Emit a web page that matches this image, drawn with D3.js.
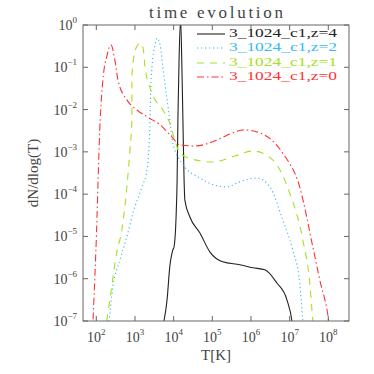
<!DOCTYPE html>
<html>
<head>
<meta charset="utf-8">
<script src="https://cdn.jsdelivr.net/npm/d3@7"></script>
<style>
  body { margin: 0; background: #fff; }
  svg text { font-family: "Liberation Serif", "DejaVu Serif", serif; }
</style>
</head>
<body>
<div id="chart"></div>
<script>
// log10 of T and of dN/dlog(T)
var logT_z4 = [3.75, 3.83, 3.90, 3.98, 4.01, 4.06, 4.09, 4.11, 4.14, 4.18, 4.21, 4.24, 4.27, 4.29, 4.42, 4.68, 4.94, 5.27, 5.71, 6.05, 6.36, 6.67, 6.93, 7.06, 7.10];
var logN_z4 = [-7.0, -6.5, -5.72, -5.32, -5.25, -4.61, -3.66, -2.25, -0.83, 0.15, -0.83, -2.25, -3.66, -4.14, -4.54, -4.92, -5.37, -5.60, -5.67, -5.74, -5.79, -6.10, -6.50, -7.0, -7.3];

var logT_z2 = [2.30, 2.43, 2.61, 2.79, 2.95, 3.18, 3.31, 3.39, 3.40, 3.44, 3.52, 3.57, 3.65, 3.72, 3.83, 3.90, 3.98, 4.21, 4.68, 5.38, 5.71, 6.15, 6.49, 6.82, 7.08, 7.26, 7.34, 7.37];
var logN_z2 = [-7.3, -6.19, -5.56, -5.01, -4.44, -3.83, -3.43, -2.25, -1.77, -0.99, -0.47, -0.31, -0.47, -0.99, -1.77, -2.25, -2.79, -3.26, -3.62, -3.83, -3.71, -3.62, -3.83, -4.61, -5.32, -6.10, -7.0, -7.3];

var logT_z1 = [2.22, 2.35, 2.53, 2.66, 2.79, 2.87, 2.92, 2.92, 2.95, 3.03, 3.13, 3.21, 3.26, 3.44, 3.72, 3.90, 4.03, 4.16, 4.55, 5.02, 5.58, 6.05, 6.56, 7.00, 7.34, 7.52, 7.60, 7.63];
var logN_z1 = [-7.3, -6.5, -5.37, -4.85, -3.83, -2.96, -2.25, -1.30, -0.90, -0.54, -0.43, -0.54, -0.99, -1.61, -2.01, -2.32, -2.72, -3.03, -3.19, -3.24, -3.10, -2.98, -3.19, -3.97, -5.08, -6.10, -7.0, -7.3];

var logT_z0 = [1.90, 1.99, 2.10, 2.17, 2.28, 2.38, 2.48, 2.56, 2.79, 3.05, 3.31, 3.65, 3.96, 4.16, 4.55, 5.07, 5.45, 5.82, 6.23, 6.82, 7.26, 7.60, 7.78, 8.01, 8.05];
var logN_z0 = [-7.3, -5.32, -2.25, -1.30, -0.71, -0.47, -0.83, -1.30, -1.77, -2.01, -2.17, -2.36, -2.65, -2.84, -2.86, -2.74, -2.58, -2.48, -2.55, -3.03, -3.83, -5.25, -6.03, -7.0, -7.3];

var seriesNames = ['3_1024_c1,z=4', '3_1024_c1,z=2', '3_1024_c1,z=1', '3_1024_c1,z=0'];
var seriesColors = ['#222222', '#33bbf0', '#a8e020', '#ff3333'];
var seriesDash = [null, '1.2,2.8', '7,6', '7,3,1.5,3'];
var xTickExp = [2, 3, 4, 5, 6, 7, 8];
var yTickExp = [0, -1, -2, -3, -4, -5, -6, -7];

var W = 374, H = 374;
var margin = { left: 83, right: 25, top: 25, bottom: 53 };
var iw = W - margin.left - margin.right, ih = H - margin.top - margin.bottom;

var svg = d3.select('#chart').append('svg')
  .attr('width', W).attr('height', H);

var x = d3.scaleLog().domain([Math.pow(10, 1.656), Math.pow(10, 8.535)]).range([0, iw]);
var y = d3.scaleLog().domain([1e-7, 1]).range([ih, 0]);

var g = svg.append('g').attr('transform', 'translate(' + margin.left + ',' + margin.top + ')');

g.append('clipPath').attr('id', 'clip')
  .append('rect').attr('width', iw).attr('height', ih);

// series
var allT = [logT_z4, logT_z2, logT_z1, logT_z0];
var allN = [logN_z4, logN_z2, logN_z1, logN_z0];

var line = d3.line()
  .x(function(d){ return x(d[0]); })
  .y(function(d){ return y(d[1]); })
  .curve(d3.curveMonotoneX);

allT.forEach(function(ts, i){
  var pts = ts.map(function(t, j){ return [Math.pow(10, t), Math.pow(10, allN[i][j])]; });
  g.append('path')
    .attr('clip-path', 'url(#clip)')
    .attr('d', line(pts))
    .attr('fill', 'none')
    .attr('stroke', seriesColors[i])
    .attr('stroke-width', 1.1)
    .attr('stroke-dasharray', seriesDash[i]);
});

// frame
g.append('rect').attr('width', iw).attr('height', ih)
  .attr('fill', 'none').attr('stroke', '#666').attr('stroke-width', 1);

var tickLen = 5;
var axisColor = '#666';
var textColor = '#444';

// x ticks
xTickExp.forEach(function(e){
  var px = x(Math.pow(10, e));
  g.append('line').attr('x1', px).attr('x2', px).attr('y1', ih).attr('y2', ih - tickLen).attr('stroke', axisColor);
  g.append('line').attr('x1', px).attr('x2', px).attr('y1', 0).attr('y2', tickLen).attr('stroke', axisColor);
  var t = g.append('text').attr('x', px).attr('y', ih + 21)
    .attr('text-anchor', 'middle').attr('fill', textColor).attr('font-size', 14);
  t.append('tspan').text('10');
  t.append('tspan').attr('dy', -7).attr('font-size', 9).text(e);
});

// y ticks
yTickExp.forEach(function(e){
  var py = y(Math.pow(10, e));
  g.append('line').attr('x1', 0).attr('x2', tickLen).attr('y1', py).attr('y2', py).attr('stroke', axisColor);
  g.append('line').attr('x1', iw).attr('x2', iw - tickLen).attr('y1', py).attr('y2', py).attr('stroke', axisColor);
  var t = g.append('text').attr('x', -6).attr('y', py + 5)
    .attr('text-anchor', 'end').attr('fill', textColor).attr('font-size', 14);
  t.append('tspan').text('10');
  t.append('tspan').attr('dy', -7).attr('font-size', 9).text(e === 0 ? '0' : '\u2212' + (-e));
});

// labels
svg.append('text').attr('x', margin.left + iw / 2).attr('y', 360)
  .attr('text-anchor', 'middle').attr('fill', textColor).attr('font-size', 15)
  .text('T[K]');

svg.append('text')
  .attr('transform', 'translate(38,' + (margin.top + ih / 2) + ') rotate(-90)')
  .attr('text-anchor', 'middle').attr('fill', textColor).attr('font-size', 15)
  .text('dN/dlog(T)');

svg.append('text').attr('x', 216).attr('y', 18)
  .attr('text-anchor', 'middle').attr('fill', textColor).attr('font-size', 17)
  .attr('textLength', 134).attr('lengthAdjust', 'spacing')
  .text('time evolution');

// legend
var legendY = [32, 46, 61, 75];
seriesNames.forEach(function(name, i){
  svg.append('line')
    .attr('x1', 197).attr('x2', 225)
    .attr('y1', legendY[i] + 2).attr('y2', legendY[i] + 2)
    .attr('stroke', seriesColors[i]).attr('stroke-width', 1.1)
    .attr('stroke-dasharray', seriesDash[i]);
  svg.append('text').attr('x', 229).attr('y', legendY[i] + 5)
    .attr('fill', seriesColors[i]).attr('font-size', 13)
    .attr('textLength', 108).attr('lengthAdjust', 'spacingAndGlyphs')
    .text(name);
});
</script>
</body>
</html>
